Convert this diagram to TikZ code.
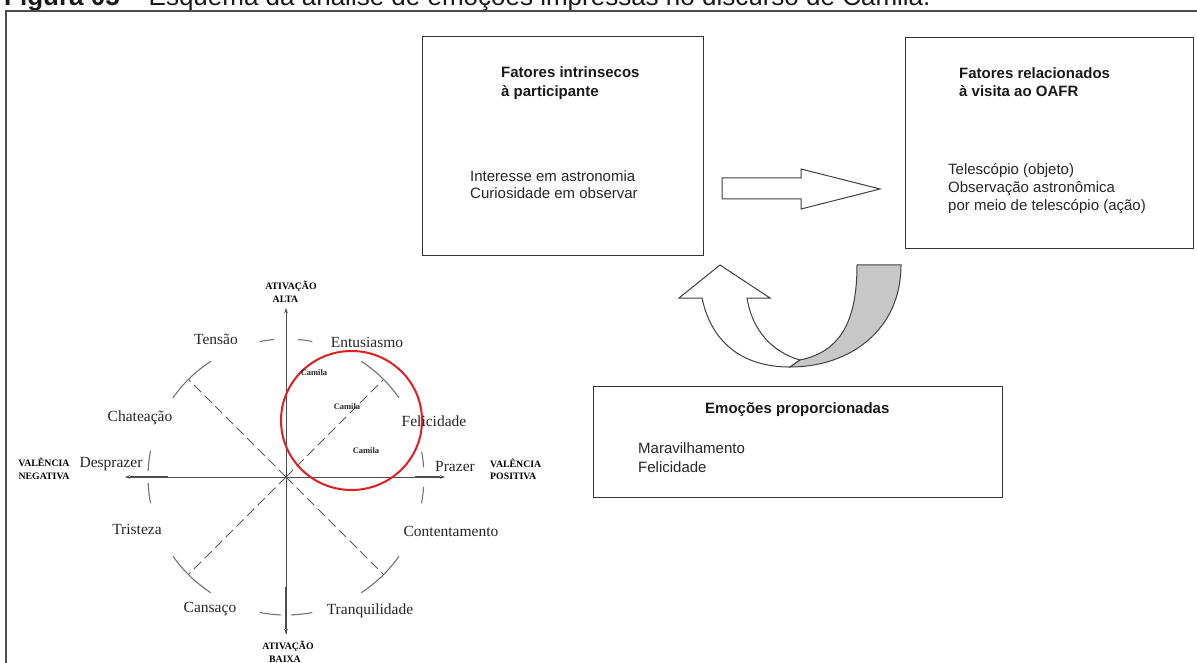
\documentclass[tikz,border=0pt]{standalone}
\usepackage{fontspec}
\setmainfont{Liberation Serif}
\newfontfamily\arialfont{Liberation Sans}
\usetikzlibrary{arrows.meta}
\begin{document}
\begin{tikzpicture}[x=1pt,y=-1pt,
  frame/.style={draw=black!70, line width=1.6pt},
  box/.style={draw=black!80, line width=1.3pt, anchor=north west, inner sep=0pt},
  boxhead/.style={font=\arialfont\bfseries\fontsize{15}{18}\selectfont, text=black!90, anchor=base west, inner sep=0pt},
  boxtext/.style={font=\arialfont\fontsize{15}{18}\selectfont, text=black!85, anchor=base west, inner sep=0pt},
  blockarrow/.style={draw=black!75, line width=1pt, fill=white, line join=miter},
  axis/.style={draw=black!70, line width=1pt, -{Stealth[length=5pt,width=3.5pt]}},
  ring/.style={draw=black!55, line width=1.1pt},
  spoke/.style={draw=black!65, line width=1pt, dash pattern=on 10pt off 5pt},
  emo/.style={font=\fontsize{15.5}{18}\selectfont, text=black!85, anchor=base, inner sep=0pt},
  pole/.style={font=\bfseries\fontsize{9.8}{11}\selectfont, anchor=base, inner sep=0pt},
  who/.style={font=\bfseries\fontsize{8.5}{10}\selectfont, text=black!85, anchor=base, inner sep=0pt},
]
\useasboundingbox (0,0) rectangle (1197,663);
\clip (0,0) rectangle (1197,663);

% caption line and outer frame
\node[anchor=base west, inner sep=0pt, font=\arialfont\fontsize{26}{29}\selectfont, text=black!90] (caption) at (4,6)
  {\textbf{Figura 05} – Esquema da análise de emoções impressas no discurso de Camila.};
\draw[frame] (6,680) -- (6,11) -- (1210,11);

% factor boxes
\node[box, minimum width=281pt, minimum height=219pt] (intr) at (422,36) {};
\node[boxhead] (intrh1) at (501,78) {Fatores intrinsecos};
\node[boxhead] (intrh2) at (501,97) {à participante};
\node[boxtext] (intrt1) at (470,182) {Interesse em astronomia};
\node[boxtext] (intrt2) at (470,199) {Curiosidade em observar};

\node[box, minimum width=288pt, minimum height=211pt] (visit) at (905,37) {};
\node[boxhead] (visith1) at (959,79) {Fatores relacionados};
\node[boxhead] (visith2) at (959,97) {à visita ao OAFR};
\node[boxtext] (visitt1) at (948,175) {Telescópio (objeto)};
\node[boxtext] (visitt2) at (948,193) {Observação astronômica};
\node[boxtext] (visitt3) at (948,211) {por meio de telescópio (ação)};

\node[box, minimum width=409pt, minimum height=111pt] (emo) at (593,386) {};
\node[boxhead] (emoh) at (705,413) {Emoções proporcionadas};
\node[boxtext] (emot1) at (638,453) {Maravilhamento};
\node[boxtext] (emot2) at (638,472) {Felicidade};

% block arrow between the factor boxes
\draw[blockarrow] (722,178) -- (801,178) -- (801,169) -- (880,189) -- (801,209) -- (801,199) -- (722,199) -- cycle;

% U-turn arrow: white front band with head, grey back band
\draw[blockarrow] (679,298) -- (720,265) -- (770,298) -- (747,298)
  .. controls (752,330) and (772,352) .. (800,360) -- (790,367)
  .. controls (745,367) and (712,345) .. (702,298) -- cycle;
\draw[blockarrow, fill=black!22] (790,367) .. controls (850,367) and (901,330) .. (901,265)
  -- (857,265) .. controls (857,325) and (838,352) .. (800,360) -- cycle;

% circumplex of affect
\coordinate (c) at (286,477);
\begin{scope}[shift={(c)}]
  \foreach \a in {-45,-135,-225,-315}
    \draw[spoke] (0,0) -- (\a:138);
  \foreach \s/\e in {-79/-85, -95/-101, -35/-57, -4/-10.5, 4/11, 35/57,
                     79/88, 92/101, 123/145, 169/177.5, 182.5/191, 215/237}
    \draw[ring] (\s:138) arc[start angle=\s, end angle=\e, radius=138];
\end{scope}
\draw[axis] (286,634) -- (286,308);
\draw[axis] (286,477) -- (286,634);
\draw[axis] (286,477) -- (125,477);
\draw[axis] (286,477) -- (445,477);
\draw[black!70, line width=1.6pt] (130,477) -- (168,477);
\draw[black!70, line width=1.6pt] (415,477) -- (440,477);
\draw[black!70, line width=1.6pt] (286,587) -- (286,629);

\draw[draw={rgb,255:red,225;green,30;blue,35}, line width=2pt] (351.5,420.5) ellipse [x radius=70.5, y radius=69.5];

\node[pole] (altaa) at (291,289) {ATIVAÇÃO};
\node[pole] (altab) at (285.5,302) {ALTA};
\node[pole] (baixaa) at (288,649) {ATIVAÇÃO};
\node[pole] (baixab) at (285,662) {BAIXA};
\node[pole] (nega) at (44,466) {VALÊNCIA};
\node[pole] (negb) at (44,479) {NEGATIVA};
\node[pole, anchor=base west] (posa) at (490,467) {VALÊNCIA};
\node[pole, anchor=base west] (posb) at (490,479) {POSITIVA};

\node[emo] (tensao) at (216,344) {Tensão};
\node[emo] (entus) at (367,347) {Entusiasmo};
\node[emo] (chat) at (140,421) {Chateação};
\node[emo] (felic) at (434,426) {Felicidade};
\node[emo] (despr) at (111,467) {Desprazer};
\node[emo] (prazer) at (455,471) {Prazer};
\node[emo] (trist) at (137,534) {Tristeza};
\node[emo] (content) at (451,536) {Contentamento};
\node[emo] (cansaco) at (210,612) {Cansaço};
\node[emo] (tranq) at (370,614) {Tranquilidade};

\node[who] (cam1) at (314,375) {Camila};
\node[who] (cam2) at (347,409) {Camila};
\node[who] (cam3) at (366,453) {Camila};
\end{tikzpicture}
\end{document}
